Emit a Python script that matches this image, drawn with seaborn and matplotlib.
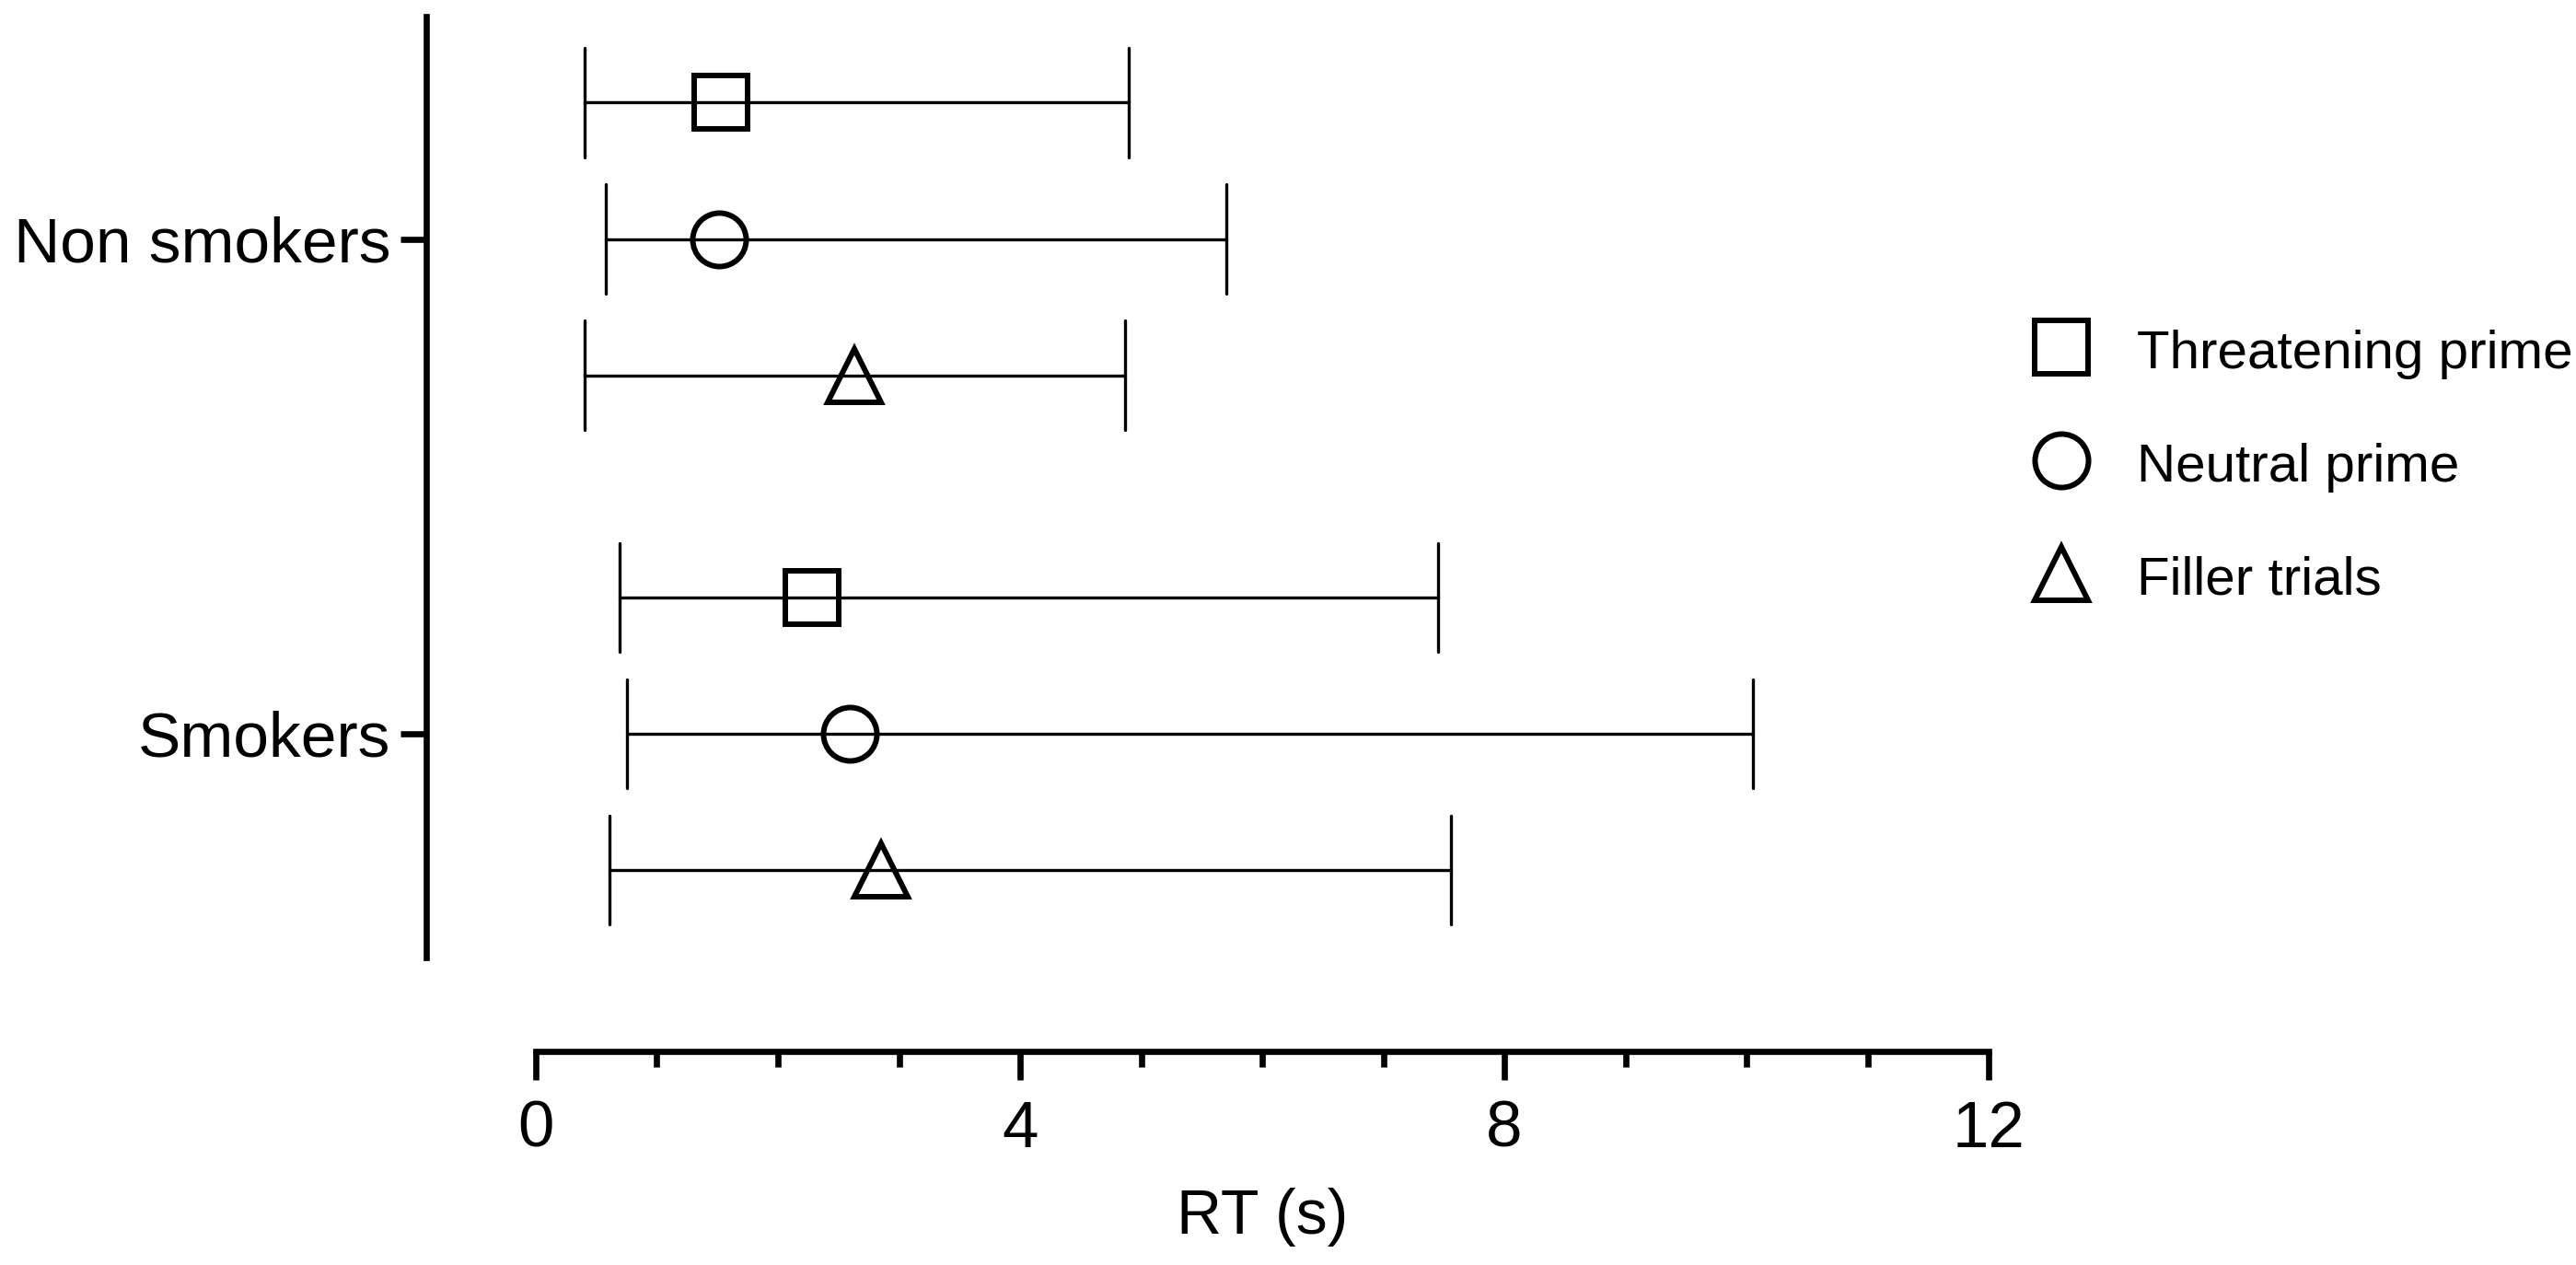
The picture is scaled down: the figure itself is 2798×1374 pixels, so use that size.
import matplotlib
matplotlib.use("Agg")
import matplotlib.pyplot as plt
from matplotlib.lines import Line2D
from matplotlib.ticker import MultipleLocator
import seaborn as sns
import numpy as np
import pandas as pd

groups = ["Non smokers", "Smokers"]
conditions = ["Threatening prime", "Neutral prime", "Filler trials"]
markers = ["s", "o", "^"]

# RT (s): point estimate and interval ends, one value per condition
nonsmokers_mean = [1.53, 1.51, 2.63]
nonsmokers_low = [0.40, 0.58, 0.40]
nonsmokers_high = [4.90, 5.70, 4.87]

smokers_mean = [2.28, 2.59, 2.85]
smokers_low = [0.69, 0.75, 0.61]
smokers_high = [7.45, 10.05, 7.56]

x_ticks = [0, 4, 8, 12]

# long table: low / mean / high per cell -> median gives the point, min/max the bar
rows = []
for grp, mean, low, high in [
    ("Non smokers", nonsmokers_mean, nonsmokers_low, nonsmokers_high),
    ("Smokers", smokers_mean, smokers_low, smokers_high),
]:
    for cond, m, lo, hi in zip(conditions, mean, low, high):
        for v in (lo, m, hi):
            rows.append({"group": grp, "condition": cond, "rt": v})
df = pd.DataFrame(rows)

sns.set_style("ticks")
plt.rcParams["font.family"] = ["Liberation Sans", "DejaVu Sans"]
plt.rcParams["text.color"] = "black"
plt.rcParams["axes.labelcolor"] = "black"

fig = plt.figure(figsize=(27.98, 13.74), dpi=100)
ax = fig.add_axes([0.2080, 0.2431, 0.5640, 0.7440])

ms = 41.8
mew = 4.3
sns.pointplot(
    data=df, x="rt", y="group", hue="condition",
    order=groups, hue_order=conditions,
    estimator="median", errorbar=lambda v: (v.min(), v.max()),
    markers=markers, linestyles="none",
    palette={c: "black" for c in conditions},
    dodge=0.551, capsize=0.22,
    err_kws={"linewidth": 2.4},
    markersize=ms, markeredgewidth=mew, markerfacecolor="none",
    legend=False, ax=ax,
)

ax.set_ylim(1.4525, -0.45)
ax.set_xlim(0, 12)
ax.set_xticks(x_ticks)
ax.xaxis.set_minor_locator(MultipleLocator(1))
ax.set_ylabel("")
ax.set_xlabel("RT (s)", fontsize=49, labelpad=21, color="black")

for s in ["top", "right"]:
    ax.spines[s].set_visible(False)
ax.spines["left"].set_position(("outward", 85.7))
ax.spines["bottom"].set_position(("outward", 73.4))
for s in ["left", "bottom"]:
    ax.spines[s].set_linewidth(4.8)
    ax.spines[s].set_color("black")

ax.tick_params(axis="y", length=20, width=4.8, pad=8, labelsize=50, colors="black")
ax.tick_params(axis="x", which="major", length=22, width=4.8, pad=16, labelsize=51, colors="black")
ax.tick_params(axis="x", which="minor", length=12, width=4.8, colors="black")

handles = [
    Line2D([], [], marker=m, linestyle="none", color="black", markersize=ms,
           markeredgewidth=mew, markerfacecolor="none")
    for m in markers
]
fig.legend(handles, conditions, loc="center left", bbox_to_anchor=(0.7898, 0.6317),
           frameon=False, fontsize=42, handlelength=1, handleheight=1,
           handletextpad=0.9, labelspacing=1.11, borderpad=0, borderaxespad=0,
           labelcolor="black")

fig.savefig("out.png", dpi=100)
